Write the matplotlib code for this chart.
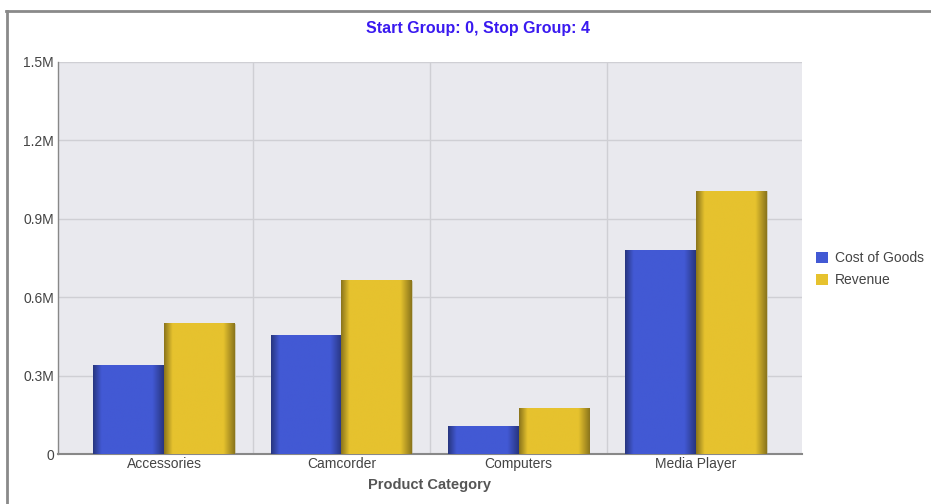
import matplotlib.pyplot as plt
import numpy as np
from matplotlib.patches import Patch
from matplotlib.lines import Line2D

categories = ['Accessories', 'Camcorder', 'Computers', 'Media Player']
cost_of_goods = [339000, 453000, 104000, 778000]
revenue = [499000, 663000, 176000, 1006000]
y_ticks = [0, 300000, 600000, 900000, 1200000, 1500000]
y_labels = ['0', '0.3M', '0.6M', '0.9M', '1.2M', '1.5M']

blue = '#4259d4'
yellow = '#e6c22e'

plt.rcParams['font.family'] = ['Liberation Sans', 'DejaVu Sans']

fig = plt.figure(figsize=(9.31, 5.04), dpi=100)
ax = fig.add_axes([58 / 931, 50 / 504, 744 / 931, 392 / 504])
ax.set_facecolor('#e9e9ee')

# frame around the chart (only left and top show)
fig.add_artist(Line2D([7 / 931, 7 / 931], [0, 1 - 11 / 504], transform=fig.transFigure, color='#8a8a8a', lw=2))
fig.add_artist(Line2D([6 / 931, 1], [1 - 11 / 504, 1 - 11 / 504], transform=fig.transFigure, color='#8a8a8a', lw=2))


def shade(color, n=200):
    rgb = np.array(plt.matplotlib.colors.to_rgb(color))
    t = np.linspace(0, 1, n)
    f = np.ones(n)
    left = t < 0.12
    f[left] = 0.6 + 0.4 * (t[left] / 0.12)
    right = t > 0.84
    f[right] = 1 - 0.4 * ((t[right] - 0.84) / 0.16)
    img = rgb[None, :] * f[:, None]
    return img[None, :, :]


x = np.arange(len(categories))
w = 0.4
bars1 = ax.bar(x - w / 2, cost_of_goods, w, color=blue, edgecolor='#b8b8c8', lw=0.6, zorder=2)
bars2 = ax.bar(x + w / 2, revenue, w, color=yellow, edgecolor='#c8c8b8', lw=0.6, zorder=2)
for bars, col in [(bars1, blue), (bars2, yellow)]:
    img = shade(col)
    for b in bars:
        x0, y0 = b.get_x(), b.get_y()
        ax.imshow(img, extent=[x0, x0 + b.get_width(), y0, y0 + b.get_height()],
                  aspect='auto', zorder=3, interpolation='bilinear')

ax.set_xlim(-0.6, 3.6)
ax.set_ylim(0, 1500000)
ax.set_xticks(x)
ax.set_xticklabels(categories, fontsize=10, color='#444444')
ax.set_yticks(y_ticks)
ax.set_yticklabels(y_labels, fontsize=10, color='#444444')
ax.tick_params(axis='both', length=0, pad=3)
ax.tick_params(axis='x', pad=2)

for yv in y_ticks[1:]:
    ax.axhline(yv, color='#cfcfd4', lw=1, zorder=1)
for xv in [0.5, 1.5, 2.5]:
    ax.axvline(xv, color='#cfcfd4', lw=1, zorder=1)

for s in ['top', 'right']:
    ax.spines[s].set_visible(False)
ax.spines['left'].set_color('#888888')
ax.spines['left'].set_linewidth(1)
ax.spines['bottom'].set_color('#888888')
ax.spines['bottom'].set_linewidth(1.5)

ax.set_xlabel('Product Category', fontsize=10.5, fontweight='bold', color='#555555', labelpad=5)
fig.text(478 / 931, 1 - 29 / 504, 'Start Group: 0, Stop Group: 4', ha='center', va='center',
         fontsize=11.5, fontweight='bold', color='#3a1af0')

handles = [Patch(facecolor=blue, label='Cost of Goods'), Patch(facecolor=yellow, label='Revenue')]
fig.legend(handles=handles, loc='upper left', bbox_to_anchor=(803 / 931, 1 - 239 / 504), frameon=False,
           fontsize=10, handlelength=0.9, handleheight=0.9, handletextpad=0.5, labelspacing=0.55,
           labelcolor='#444444')

fig.savefig('out.png', dpi=100)
